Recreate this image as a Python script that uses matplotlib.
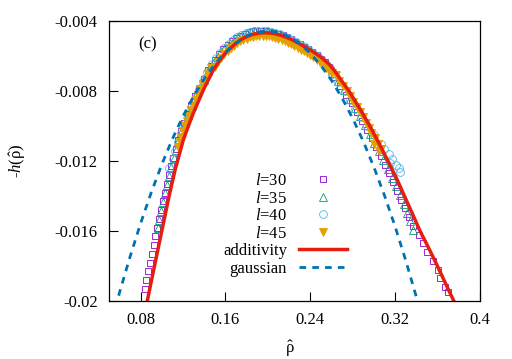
import matplotlib
matplotlib.use("Agg")
import matplotlib.pyplot as plt

plt.rcParams['font.family'] = ['Liberation Serif', 'DejaVu Serif']
plt.rcParams['mathtext.fontset'] = 'custom'
plt.rcParams['mathtext.rm'] = 'Liberation Serif'
plt.rcParams['mathtext.it'] = 'Liberation Serif:italic'
plt.rcParams['axes.unicode_minus'] = False

# ---- data ----
# l=30 (squares)
rho30 = [0.0836, 0.0853, 0.0870, 0.0887, 0.0904, 0.0921, 0.0939, 0.0956, 0.0973, 0.0990,
         0.1008, 0.1026, 0.1044, 0.1063, 0.1085, 0.1107, 0.1130, 0.1153, 0.1183, 0.1213,
         0.1246, 0.1279, 0.1315, 0.1351, 0.1394, 0.1435,
         0.146, 0.150, 0.154, 0.158, 0.162, 0.166, 0.170, 0.174, 0.178, 0.182, 0.186, 0.190,
         0.194, 0.198, 0.202, 0.206, 0.210, 0.214, 0.218, 0.222, 0.226, 0.230, 0.234, 0.238,
         0.242, 0.246, 0.250, 0.254, 0.258,
         0.2626, 0.2685, 0.2740, 0.2791, 0.2841, 0.2889, 0.2935, 0.2979, 0.3022, 0.3063,
         0.3104, 0.3145, 0.3185, 0.3222, 0.3259, 0.3296, 0.3333, 0.3369, 0.3425, 0.3465,
         0.3505, 0.3556, 0.3605, 0.3625, 0.3673, 0.3700]
h30 = [-0.0193, -0.0188, -0.0183, -0.0178, -0.0173, -0.0168, -0.0163, -0.0158, -0.0153, -0.0148,
       -0.0143, -0.0138, -0.0133, -0.0128, -0.0123, -0.0118, -0.0113, -0.0108, -0.0103, -0.0098,
       -0.0093, -0.0088, -0.0083, -0.0078, -0.0073, -0.0068,
       -0.00656, -0.00622, -0.00589, -0.00558, -0.00536, -0.00515, -0.00497, -0.00483, -0.00472,
       -0.00464, -0.00459, -0.00456, -0.00455, -0.00457, -0.00460, -0.00466, -0.00473, -0.00482,
       -0.00493, -0.00505, -0.00518, -0.00533, -0.00547, -0.00561, -0.00577, -0.00594, -0.00615,
       -0.00636, -0.00665,
       -0.0072, -0.0077, -0.0082, -0.0087, -0.0092, -0.0097, -0.0102, -0.0107, -0.0112, -0.0117,
       -0.0122, -0.0127, -0.0132, -0.0137, -0.0142, -0.0147, -0.0152, -0.0157, -0.0162, -0.0167,
       -0.0172, -0.0177, -0.0182, -0.0187, -0.0192, -0.0195]

# l=35 (triangles)
rho35 = [0.0959, 0.0976, 0.0993, 0.1011, 0.1029, 0.1047, 0.1067, 0.1088, 0.1110, 0.1132,
         0.1155, 0.1185, 0.1215, 0.1247, 0.1281, 0.1317, 0.1353, 0.1394, 0.1435,
         0.148, 0.152, 0.156, 0.160, 0.164, 0.168, 0.172, 0.176, 0.180, 0.184, 0.188, 0.192,
         0.196, 0.200, 0.204, 0.208, 0.212, 0.216, 0.220, 0.224, 0.228, 0.232, 0.236, 0.240,
         0.244, 0.248, 0.252, 0.256,
         0.2601, 0.2660, 0.2719, 0.2771, 0.2822, 0.2870, 0.2918, 0.2962, 0.3006, 0.3047,
         0.3089, 0.3130, 0.3171, 0.3208, 0.3245, 0.3282, 0.3309, 0.3346, 0.3365]
h35 = [-0.01585, -0.01535, -0.01485, -0.01435, -0.01385, -0.01335, -0.01285, -0.01235, -0.01185,
       -0.01135, -0.01085, -0.01035, -0.00985, -0.00935, -0.00885, -0.00835, -0.00785, -0.00735,
       -0.00685,
       -0.00639, -0.00606, -0.00574, -0.00547, -0.00526, -0.00506, -0.00490, -0.00478, -0.00468,
       -0.00462, -0.00458, -0.00456, -0.00456, -0.00459, -0.00463, -0.00470, -0.00478, -0.00488,
       -0.00499, -0.00512, -0.00526, -0.00540, -0.00554, -0.00569, -0.00586, -0.00605, -0.00626,
       -0.00650,
       -0.00695, -0.00745, -0.00795, -0.00845, -0.00895, -0.00945, -0.00995, -0.01045, -0.01095,
       -0.01145, -0.01195, -0.01245, -0.01295, -0.01345, -0.01395, -0.01445, -0.01495, -0.01545,
       -0.01595]

# l=40 (circles)
rho40 = [0.1070, 0.1102, 0.1127, 0.1150, 0.1180, 0.1210, 0.1242, 0.1275, 0.1311, 0.1347,
         0.1388, 0.1429,
         0.147, 0.151, 0.155, 0.159, 0.163, 0.167, 0.171, 0.175, 0.179, 0.183, 0.187, 0.191,
         0.195, 0.199, 0.203, 0.207, 0.211, 0.215, 0.219, 0.223, 0.227, 0.231, 0.235, 0.239,
         0.243, 0.247, 0.251, 0.255, 0.259,
         0.2607, 0.2666, 0.2725, 0.2776, 0.2827, 0.2875, 0.2932, 0.3000, 0.3065, 0.3100,
         0.3140, 0.3175, 0.3210, 0.3235, 0.3250, 0.3150]
h40 = [-0.0124, -0.0119, -0.0114, -0.0109, -0.0104, -0.0099, -0.0094, -0.0089, -0.0084, -0.0079,
       -0.0074, -0.0069,
       -0.00648, -0.00614, -0.00581, -0.00553, -0.00531, -0.00511, -0.00494, -0.00480, -0.00470,
       -0.00463, -0.00458, -0.00456, -0.00455, -0.00458, -0.00462, -0.00468, -0.00475, -0.00485,
       -0.00496, -0.00508, -0.00522, -0.00537, -0.00550, -0.00565, -0.00581, -0.00599, -0.00620,
       -0.00643, -0.00668,
       -0.0070, -0.0075, -0.0080, -0.0085, -0.0090, -0.0095, -0.0100, -0.0105, -0.0110, -0.0113,
       -0.0116, -0.0119, -0.0122, -0.0124, -0.0126, -0.0121]

# l=45 (filled down triangles)
rho45 = [0.1154, 0.1167, 0.1183, 0.1201, 0.1220, 0.1240, 0.1259, 0.1278, 0.1299, 0.1321,
         0.1343, 0.1364, 0.1388, 0.1413, 0.1438, 0.1467,
         0.150, 0.153, 0.156, 0.159, 0.162, 0.165, 0.168, 0.171, 0.174, 0.177, 0.180, 0.183,
         0.186, 0.189, 0.192, 0.195, 0.198, 0.201, 0.204, 0.207, 0.210, 0.213, 0.216, 0.219,
         0.222, 0.225, 0.228, 0.231, 0.234, 0.237, 0.240, 0.243, 0.246, 0.249, 0.252, 0.255,
         0.258, 0.2605,
         0.2639, 0.2674, 0.2710, 0.2745, 0.2776, 0.2806, 0.2837, 0.2866, 0.2895, 0.2923,
         0.2951, 0.2977, 0.3014, 0.3040, 0.3070, 0.3000, 0.3045]
h45 = [-0.0112, -0.0109, -0.0106, -0.0103, -0.0100, -0.0097, -0.0094, -0.0091, -0.0088, -0.0085,
       -0.0082, -0.0079, -0.0076, -0.0073, -0.0070, -0.0067,
       -0.00660, -0.00635, -0.00611, -0.00588, -0.00571, -0.00555, -0.00540, -0.00527, -0.00516,
       -0.00508, -0.00500, -0.00494, -0.00490, -0.00488, -0.00486, -0.00485, -0.00486, -0.00488,
       -0.00491, -0.00496, -0.00501, -0.00508, -0.00515, -0.00523, -0.00532, -0.00542, -0.00552,
       -0.00563, -0.00574, -0.00584, -0.00595, -0.00607, -0.00620, -0.00635, -0.00650, -0.00666,
       -0.00688, -0.00695,
       -0.0071, -0.0074, -0.0077, -0.0080, -0.0083, -0.0086, -0.0089, -0.0092, -0.0095, -0.0098,
       -0.0101, -0.0104, -0.0107, -0.0110, -0.0113, -0.0110, -0.0114]

# additivity curve
rho_add = [0.0862, 0.0930, 0.0999, 0.1068, 0.1125, 0.1202, 0.1250, 0.1296, 0.1391, 0.1485,
           0.154, 0.1611, 0.166, 0.170, 0.174, 0.178, 0.182, 0.186, 0.190, 0.194, 0.198,
           0.202, 0.206, 0.210, 0.214, 0.218, 0.222, 0.226, 0.230, 0.234, 0.238, 0.242,
           0.246, 0.250, 0.254, 0.258, 0.262, 0.2765, 0.2867, 0.2962, 0.3050, 0.3133,
           0.3215, 0.3289, 0.3363, 0.3436, 0.3520, 0.3600, 0.3677, 0.3755]
h_add = [-0.0200, -0.0180, -0.0160, -0.0140, -0.0125, -0.0108, -0.0100, -0.00927, -0.00794,
         -0.0068, -0.0063, -0.00575, -0.00548, -0.00527, -0.00509, -0.00495, -0.00484,
         -0.00476, -0.00471, -0.00468, -0.00467, -0.00469, -0.00472, -0.00478, -0.00485,
         -0.00494, -0.00505, -0.00517, -0.00530, -0.00545, -0.00559, -0.00573, -0.00589,
         -0.00606, -0.00627, -0.00648, -0.00677, -0.0080, -0.0090, -0.0100, -0.0110, -0.0120,
         -0.0130, -0.0140, -0.0150, -0.0160, -0.0170, -0.0180, -0.0190, -0.0200]

# gaussian curve
rho_gau = [0.056, 0.06, 0.07, 0.08, 0.09, 0.10, 0.11, 0.12, 0.13, 0.14, 0.15, 0.16, 0.17,
           0.18, 0.185, 0.19, 0.195, 0.20, 0.205, 0.21, 0.215, 0.22, 0.23, 0.24, 0.25, 0.26,
           0.27, 0.28, 0.29, 0.30, 0.31, 0.32, 0.33, 0.34, 0.345]
h_gau = [-0.0204, -0.01952, -0.01746, -0.01555, -0.01379, -0.01218, -0.01073, -0.00943,
         -0.00829, -0.0073, -0.00646, -0.00578, -0.00525, -0.00487, -0.00474, -0.00465,
         -0.00460, -0.00458, -0.00460, -0.00466, -0.00476, -0.0049, -0.00529, -0.00584,
         -0.00654, -0.00739, -0.0084, -0.00956, -0.01087, -0.01234, -0.01396, -0.01573,
         -0.01766, -0.01974, -0.02084]

xticks = [0.08, 0.16, 0.24, 0.32, 0.4]
xticklabels = ['0.08', '0.16', '0.24', '0.32', '0.4']
yticks = [-0.02, -0.016, -0.012, -0.008, -0.004]
yticklabels = ['-0.02', '-0.016', '-0.012', '-0.008', '-0.004']

# ---- plot ----
fig = plt.figure(figsize=(5.12, 3.59), dpi=100)
ax = fig.add_axes([0.2127, 0.1615, 0.7244, 0.78])

ms = 5.0
ax.plot(rho30, h30, ls='none', marker='s', ms=ms, mfc='none', mec='#9400D3', mew=0.6,
        label='$l$=30')
ax.plot(rho35, h35, ls='none', marker='^', ms=ms + 0.6, mfc='none', mec='#009E73', mew=0.6,
        label='$l$=35')
ax.plot(rho40, h40, ls='none', marker='o', ms=ms + 0.6, mfc='none', mec='#56B4E9', mew=0.6,
        label='$l$=40')
ax.plot(rho45, h45, ls='none', marker='v', ms=ms + 0.8, mfc='#E69F00', mec='#E69F00', mew=0.6,
        label='$l$=45')
ax.plot(rho_add, h_add, color='#E51E10', lw=2.5, label='additivity')
ax.plot(rho_gau, h_gau, color='#0072B2', lw=2.0, dashes=(2.4, 2.2), dash_capstyle='butt',
        label='gaussian')

ax.set_xlim(0.05, 0.4)
ax.set_ylim(-0.02, -0.004)
ax.set_xticks(xticks)
ax.set_xticklabels(xticklabels)
ax.set_yticks(yticks)
ax.set_yticklabels(yticklabels)
ax.tick_params(direction='in', length=6.5, width=0.8, labelsize=12, pad=8,
               top=False, right=False)
for s in ax.spines.values():
    s.set_linewidth(0.9)

ax.set_xlabel(r'$\hat{\mathrm{\rho}}$', fontsize=12)
ax.xaxis.set_label_coords(0.488, -0.135)
ax.set_ylabel(r'-$h$($\hat{\mathrm{\rho}}$)', fontsize=12)
ax.yaxis.set_label_coords(-0.218, 0.5)

ax.text(0.103, 0.918, '(c)', transform=ax.transAxes, fontsize=12, ha='center', va='center')

ax.legend(loc='upper right', bbox_to_anchor=(0.642, 0.457), frameon=False, fontsize=12,
          markerfirst=False, numpoints=1, handlelength=2.9, handletextpad=0.7,
          labelspacing=0.09, borderpad=0, borderaxespad=0)

fig.savefig('out.png', dpi=100)
